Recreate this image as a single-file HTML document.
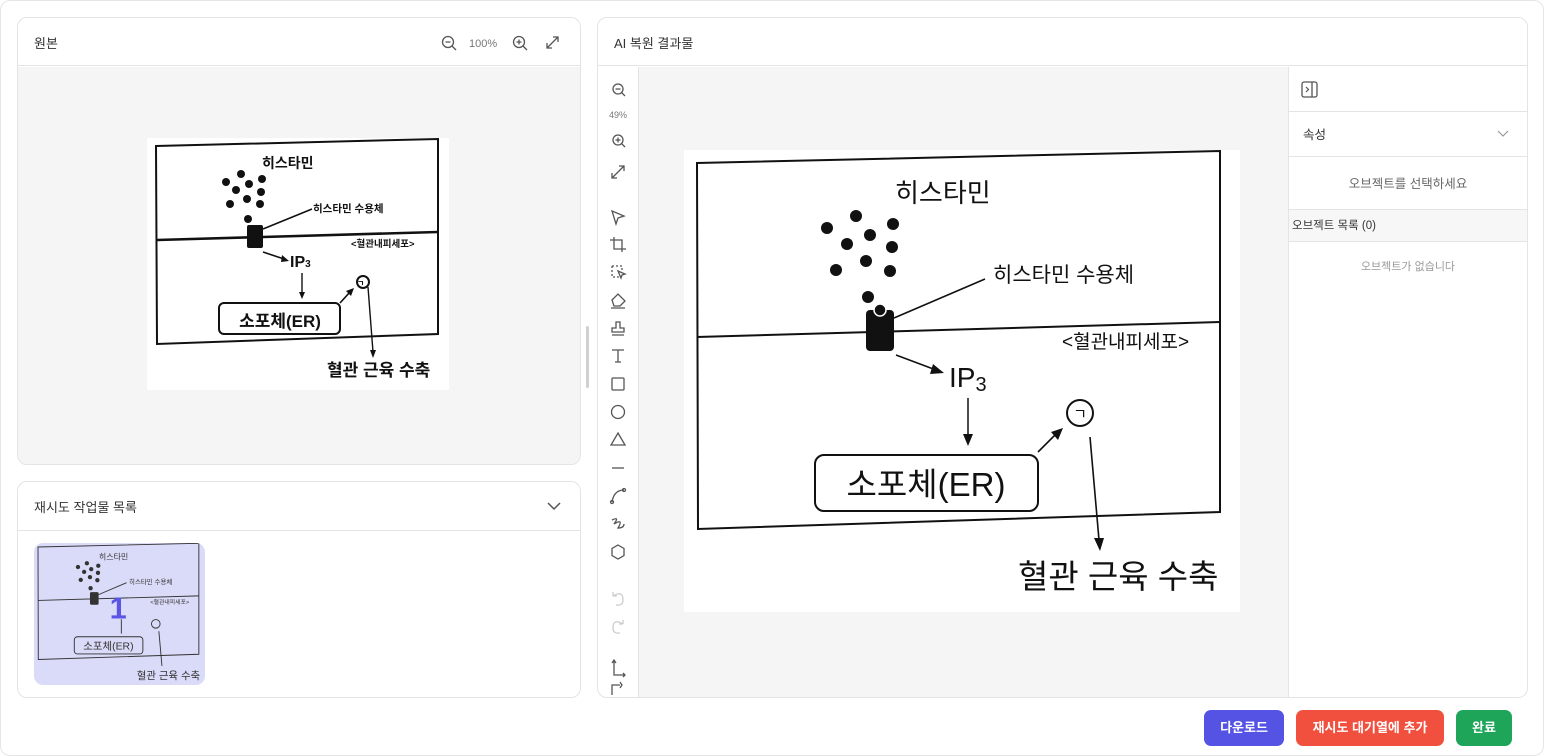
<!DOCTYPE html>
<html><head><meta charset="utf-8"><style>
*{box-sizing:border-box;margin:0;padding:0}
body{width:1544px;height:756px;background:#fff;font-family:"Liberation Sans","Noto Sans CJK KR",sans-serif;position:relative;overflow:hidden;color:#333}
.frame{position:absolute;left:0;top:0;width:1544px;height:756px;border:1px solid #e6e6e6;border-radius:10px}
.panel{position:absolute;background:#fff;border:1px solid #e4e4e7;border-radius:10px;overflow:hidden}
.hdr{position:absolute;left:0;right:0;top:0;height:48px;border-bottom:1px solid #e4e4e7;font-size:13px;color:#333;padding:15px 0 0 16px}
.btn{position:absolute;top:710px;height:36px;border-radius:7px;color:#fff;font-size:13px;font-weight:bold;text-align:center;line-height:36px}
</style></head><body>
<div class="frame"></div>

<div class="panel" style="left:17px;top:17px;width:564px;height:448px">
 <div class="hdr">원본</div>
 <svg style="position:absolute;left:0;top:0" width="564" height="48">
  <g fill="none" stroke="#555" stroke-width="1.3">
   <circle cx="430" cy="24" r="5.5"/><line x1="434" y1="28" x2="438" y2="32"/><line x1="427.5" y1="24" x2="432.5" y2="24"/>
   <circle cx="501" cy="24" r="5.5"/><line x1="505" y1="28" x2="509" y2="32"/><line x1="498.5" y1="24" x2="503.5" y2="24"/><line x1="501" y1="21.5" x2="501" y2="26.5"/>
   <path d="M529 30 L540 19 M535 19 L540 19 L540 24 M529 25 L529 30 L534 30"/>
  </g>
  <text x="451" y="29" font-size="11" fill="#777" font-family="Liberation Sans">100%</text>
 </svg>
 <div style="position:absolute;left:0;top:49px;right:0;bottom:0;background:#f5f5f5"></div>
</div>
<div style="position:absolute;left:586px;top:326px;width:3px;height:62px;background:#d0d0d0;border-radius:2px"></div>

<!-- original image -->
<svg style="position:absolute;left:0;top:0" width="600" height="420">
 <rect x="147" y="138" width="302" height="252" fill="#fff"/>
 <g stroke="#111" fill="none" stroke-width="2">
  <path d="M156 146 L438 139 L438 334 L157 344 Z"/>
  <path d="M157 240 L438 232" stroke-width="2.6"/>
  <line x1="263" y1="229" x2="312" y2="209" stroke-width="1.6"/>
  <rect x="219" y="303" width="121" height="31" rx="5"/>
  <line x1="263" y1="252" x2="284" y2="259" stroke-width="1.6"/>
  <line x1="302" y1="273" x2="302" y2="294" stroke-width="1.4"/>
  <line x1="340" y1="303" x2="350" y2="292" stroke-width="1.6"/>
  <line x1="368" y1="287" x2="373" y2="352" stroke-width="1.4"/>
  <circle cx="363" cy="282" r="6"/>
 </g>
 <g fill="#111">
  <path d="M289 261 L282 255 L281 262Z"/><path d="M302 299 L299 292 L305 292Z"/><path d="M354 288 L346 291 L351 296Z"/><path d="M373 358 L370 350 L376 350Z"/>
  <circle cx="226" cy="182" r="4"/><circle cx="241" cy="174" r="4"/><circle cx="262" cy="179" r="4"/><circle cx="249" cy="184" r="4"/><circle cx="236" cy="190" r="4"/><circle cx="261" cy="192" r="4"/><circle cx="247" cy="199" r="4"/><circle cx="230" cy="204" r="4"/><circle cx="260" cy="204" r="4"/><circle cx="248" cy="219" r="4"/>
  <rect x="247" y="225" width="16" height="23" rx="2"/>
 </g>
 <g font-family="Liberation Sans,'Noto Sans CJK KR',sans-serif" font-weight="bold" fill="#111">
  <text x="262" y="168" font-size="14">히스타민</text>
  <text x="313" y="212" font-size="10.5">히스타민 수용체</text>
  <text x="351" y="247" font-size="9.5">&lt;혈관내피세포&gt;</text>
  <text x="290" y="267" font-size="16">IP<tspan font-size="10">3</tspan></text>
  <text x="357" y="286" font-size="8">ㄱ</text>
  <text x="280" y="327" font-size="17" text-anchor="middle">소포체(ER)</text>
  <text x="327" y="376" font-size="17">혈관 근육 수축</text>
 </g>
</svg>

<div class="panel" style="left:17px;top:481px;width:564px;height:217px">
 <div class="hdr" style="height:49px">재시도 작업물 목록</div>
 <svg style="position:absolute;left:528px;top:18px" width="16" height="12"><path d="M2 3 L8 9 L14 3" fill="none" stroke="#555" stroke-width="1.5"/></svg>
 <div style="position:absolute;left:16px;top:61px;width:171px;height:142px;background:#dadaf9;border-radius:9px;overflow:hidden">
  <svg width="171" height="142" viewBox="684 150 556 462" preserveAspectRatio="none">
   <g stroke="#333" fill="none" stroke-width="3">
    <path d="M697 163 L1220 151 L1220 512 L698 529 Z"/><path d="M697 337 L1220 322"/>
    <rect x="815" y="455" width="223" height="56" rx="10"/><circle cx="1080" cy="413" r="14"/>
    <line x1="894" y1="318" x2="985" y2="279"/><line x1="968" y1="398" x2="968" y2="445"/><line x1="1090" y1="437" x2="1100" y2="550"/>
   </g>
   <g fill="#333"><circle cx="827" cy="228" r="7"/><circle cx="856" cy="216" r="7"/><circle cx="893" cy="224" r="7"/><circle cx="870" cy="235" r="7"/><circle cx="847" cy="244" r="7"/><circle cx="892" cy="247" r="7"/><circle cx="866" cy="261" r="7"/><circle cx="836" cy="270" r="7"/><circle cx="890" cy="271" r="7"/><circle cx="868" cy="297" r="7"/><rect x="866" y="310" width="28" height="41" rx="4"/></g>
   <text x="930" y="395" font-size="100" font-weight="bold" fill="#5b55e6" font-family="Liberation Sans">1</text>
   <g font-family="Liberation Sans,'Noto Sans CJK KR',sans-serif" fill="#333">
    <text x="895" y="203" font-size="26">히스타민</text><text x="993" y="283" font-size="21">히스타민 수용체</text><text x="1062" y="348" font-size="19">&lt;혈관내피세포&gt;</text><text x="926" y="497" font-size="34" text-anchor="middle">소포체(ER)</text><text x="1018" y="593" font-size="34">혈관 근육 수축</text>
   </g>
  </svg>
 </div>
</div>

<div class="panel" style="left:597px;top:17px;width:931px;height:681px">
 <div class="hdr">AI 복원 결과물</div>
 <div style="position:absolute;left:40px;top:49px;width:650px;bottom:0;background:#f5f5f5"></div>
 <div style="position:absolute;left:40px;top:49px;width:1px;bottom:0;background:#e4e4e7"></div>
 <div style="position:absolute;left:690px;top:49px;width:1px;bottom:0;background:#e4e4e7"></div>
 <!-- sidebar -->
 <div style="position:absolute;left:691px;top:49px;right:0;bottom:0;background:#fff">
  <svg style="position:absolute;left:12px;top:14px" width="18" height="18"><rect x="1" y="1" width="15" height="15" rx="2" fill="none" stroke="#555" stroke-width="1.3"/><line x1="11" y1="1" x2="11" y2="16" stroke="#555" stroke-width="1.3"/><path d="M5 6 L7.5 8.5 L5 11" fill="none" stroke="#555" stroke-width="1.2"/></svg>
  <div style="position:absolute;left:0;right:0;top:44px;height:1px;background:#e4e4e7"></div>
  <div style="position:absolute;left:14px;top:57px;font-size:12.5px;color:#333">속성</div>
  <svg style="position:absolute;left:207px;top:62px" width="14" height="10"><path d="M2 2 L7 7 L12 2" fill="none" stroke="#999" stroke-width="1.2"/></svg>
  <div style="position:absolute;left:0;right:0;top:89px;height:1px;background:#e4e4e7"></div>
  <div style="position:absolute;left:0;right:0;top:106px;text-align:center;font-size:12.5px;color:#666">오브젝트를 선택하세요</div>
  <div style="position:absolute;left:0;right:0;top:142px;height:33px;background:#f7f7f7;border-top:1px solid #e4e4e7;border-bottom:1px solid #e4e4e7;font-size:11.5px;color:#333;padding:7px 0 0 3px">오브젝트 목록 (0)</div>
  <div style="position:absolute;left:0;right:0;top:191px;text-align:center;font-size:11px;color:#999">오브젝트가 없습니다</div>
 </div>
 <!-- toolbar -->
 <svg style="position:absolute;left:0;top:32px" width="40" height="650">
  <g fill="none" stroke="#555" stroke-width="1.3">
   <g transform="translate(20,39)"><circle r="5"/><line x1="3.7" y1="3.7" x2="7" y2="7"/><line x1="-2.5" x2="2.5"/></g>
   <g transform="translate(20,90)"><circle r="5"/><line x1="3.7" y1="3.7" x2="7" y2="7"/><line x1="-2.5" x2="2.5"/><line y1="-2.5" y2="2.5"/></g>
   <path d="M14 128 L26 116 M21 116 L26 116 L26 121 M14 123 L14 128 L19 128"/>
   <path d="M14 161 L26 166 L20 168 L18 174 Z"/>
   <path d="M16 187 L16 199 L28 199 M12 190 L24 190 L24 202"/>
   <path d="M14 216 L14 227 L22 227 M14 216 L24 216 L24 220" stroke-dasharray="2 2"/><path d="M20 221 L27 224 L24 225 L23 228Z"/>
   <path d="M14 250 L20 244 L27 251 L22 256 L16 256 Z M13 258 L27 258"/>
   <path d="M18 272 h4 v6 h4 v4 h-12 v-4 h4z M14 285 h12"/>
   <path d="M14 300 h12 M20 300 v12 M17 312 h6"/>
   <rect x="14" y="328" width="12" height="12" rx="1"/>
   <circle cx="20" cy="362" r="6.5"/>
   <path d="M20 383 L27 395 L13 395 Z"/>
   <line x1="14" y1="418" x2="26" y2="418"/>
   <path d="M14 452 Q16 440 26 440"/><circle cx="26" cy="440" r="1.5"/><circle cx="14" cy="452" r="1.5"/>
   <path d="M14 470 Q22 466 16 474 Q26 468 20 478 Q26 478 26 474"/>
   <path d="M20 495 L26 498.5 L26 505.5 L20 509 L14 505.5 L14 498.5 Z"/>
   <g stroke="#ccc"><path d="M15 546 Q25 540 25 550 Q25 556 18 555 M15 546 L15 542 M15 546 L19 546"/><path d="M25 574 Q15 568 15 578 Q15 584 22 583 M25 574 L25 570 M25 574 L21 574"/></g>
   <path d="M16 611 L16 625 L27 625 M14 613 L16 610 L18 613 M25 623 L27 625 L25 627"/>
   <path d="M14 645 L14 635 L22 635 M22 632 L24 635 L22 638"/>
  </g>
  <text x="20" y="68" font-size="9" fill="#777" text-anchor="middle" font-family="Liberation Sans">49%</text>
 </svg>
</div>

<!-- main diagram -->
<svg style="position:absolute;left:0;top:0" width="1544" height="756">
 <rect x="684" y="150" width="556" height="462" fill="#fff"/>
 <g stroke="#111" fill="none" stroke-width="2">
  <path d="M697 163 L1220 151 L1220 512 L698 529 Z"/>
  <path d="M697 337 L1220 322"/>
  <line x1="894" y1="318" x2="985" y2="279" stroke-width="1.6"/>
  <rect x="815" y="455" width="223" height="56" rx="9"/>
  <circle cx="1080" cy="413" r="13"/>
  <line x1="896" y1="355" x2="936" y2="370" stroke-width="1.6"/>
  <line x1="968" y1="398" x2="968" y2="435" stroke-width="1.5"/>
  <line x1="1038" y1="452" x2="1055" y2="435" stroke-width="1.6"/>
  <line x1="1090" y1="437" x2="1099" y2="540" stroke-width="1.6"/>
 </g>
 <g fill="#111">
  <path d="M944 373 L933 364 L930 374Z"/>
  <path d="M968 446 L963 434 L973 434Z"/>
  <path d="M1063 428 L1051 432 L1058 440Z"/>
  <path d="M1100 551 L1094 538 L1104 538Z"/>
  <circle cx="827" cy="228" r="6"/><circle cx="856" cy="216" r="6"/><circle cx="893" cy="224" r="6"/><circle cx="870" cy="235" r="6"/><circle cx="847" cy="244" r="6"/><circle cx="892" cy="247" r="6"/><circle cx="866" cy="261" r="6"/><circle cx="836" cy="270" r="6"/><circle cx="890" cy="271" r="6"/><circle cx="868" cy="297" r="6"/>
  <rect x="866" y="310" width="28" height="41" rx="4"/>
  <circle cx="880" cy="310" r="6" stroke="#fff" stroke-width="1.5"/>
 </g>
 <g font-family="Liberation Sans,'Noto Sans CJK KR',sans-serif" fill="#111">
  <text x="895" y="202" font-size="26">히스타민</text>
  <text x="993" y="282" font-size="21">히스타민 수용체</text>
  <text x="1062" y="348" font-size="19">&lt;혈관내피세포&gt;</text>
  <text x="949" y="387" font-size="28">IP<tspan font-size="20" dy="4">3</tspan></text>
  <text x="1080" y="419" font-size="15" text-anchor="middle">ㄱ</text>
  <text x="926" y="496" font-size="33" text-anchor="middle">소포체(ER)</text>
  <text x="1018" y="588" font-size="33">혈관 근육 수축</text>
 </g>
</svg>

<div class="btn" style="left:1204px;width:80px;background:#5453e4">다운로드</div>
<div class="btn" style="left:1296px;width:148px;background:#f2503f">재시도 대기열에 추가</div>
<div class="btn" style="left:1456px;width:56px;background:#1ea55a">완료</div>
</body></html>
